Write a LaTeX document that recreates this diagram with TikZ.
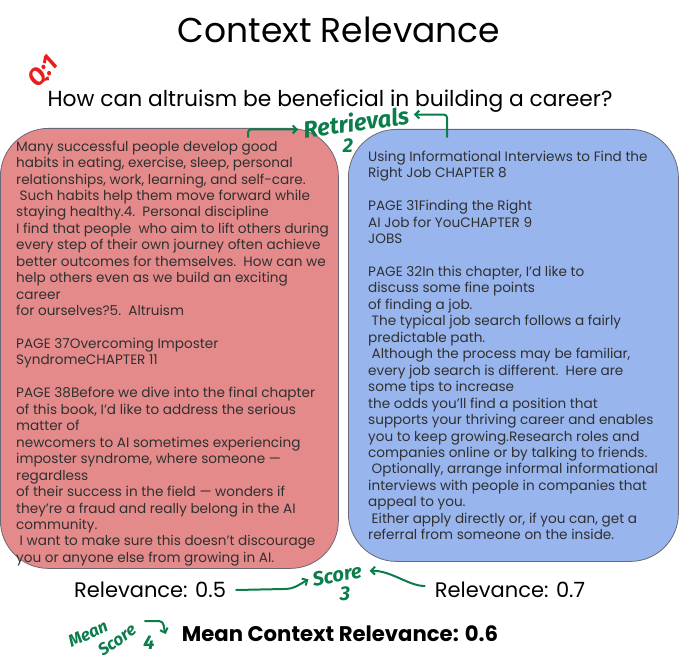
\documentclass[tikz,border=0pt]{standalone}
\usepackage{fontspec}
\setmainfont{Poppins}
\newfontfamily\handfont{Fira Sans}
\usetikzlibrary{positioning,arrows.meta}
\usepackage{xcolor}
\definecolor{boxred}{RGB}{228,138,138}
\definecolor{boxblue}{RGB}{152,181,238}
\definecolor{edgegray}{RGB}{105,105,115}
\definecolor{textgray}{RGB}{48,48,48}
\definecolor{inkgreen}{RGB}{10,125,75}
\definecolor{inkred}{RGB}{232,30,30}

\begin{document}
\begin{tikzpicture}[
    x=1pt, y=-1pt,
    ctxbox/.style={rectangle, rounded corners=48pt, draw=edgegray, line width=0.8pt,
                   anchor=north west, inner sep=0pt},
    ctxtext/.style={align=left, inner sep=0pt, text=textgray,
                    font=\fontsize{13.6}{16.45}\selectfont},
    score/.style={inner sep=0pt, font=\fontsize{21}{24}\selectfont},
    ink/.style={inner sep=0pt, text=inkgreen, font=\handfont\bfseries\itshape\fontsize{20}{20}\selectfont},
    inkarrow/.style={-{Straight Barb[length=4pt,width=8pt]}, line width=2pt, draw=inkgreen,
                     line cap=round, line join=round}
]
\useasboundingbox (0,0) rectangle (679,660);

\node[font=\fontsize{34.5}{38}\selectfont] (title) at (339,30) {Context Relevance};
\node[inner sep=0pt, font=\fontsize{21.8}{24}\selectfont] (question) at (330,101) {How can altruism be beneficial in building a career?};
\node[inner sep=0pt, text=inkred, font=\handfont\bfseries\itshape\fontsize{24}{24}\selectfont, rotate=50] (qlbl) at (44,72) {Q:1};

% the two retrieved contexts
\node[ctxbox, fill=boxred, minimum width=338, minimum height=440] (redbox) at (0,128) {};
\node[ctxbox, fill=boxblue, minimum width=330, minimum height=432] (bluebox) at (348,129) {};

\node[ctxtext, right=16pt of redbox.west, yshift=-5pt] (redtext) {%
Many successful people develop good\\
habits in eating, exercise, sleep, personal\\
relationships, work, learning, and self-care.\\
\hspace*{3.5pt}Such habits help them move forward while\\
staying healthy.4.\ \ Personal discipline\\
I find that people\ \ who aim to lift others during\\
every step of their own journey often achieve\\
better outcomes for themselves.\ \ How can we\\
help others even as we build an exciting\\
career\\
for ourselves?5.\ \ Altruism\\[16.45pt]
PAGE 37Overcoming Imposter\\
SyndromeCHAPTER 11\\[16.45pt]
PAGE 38Before we dive into the final chapter\\
of this book, I’d like to address the serious\\
matter of\\
newcomers to AI sometimes experiencing\\
imposter syndrome, where someone —\\
regardless\\
of their success in the field — wonders if\\
they’re a fraud and really belong in the AI\\
community.\\
\hspace*{3.5pt}I want to make sure this doesn’t discourage\\
you or anyone else from growing in AI.};

\node[ctxtext, right=20pt of bluebox.west] (bluetext) {%
Using Informational Interviews to Find the\\
Right Job CHAPTER 8\\[16.45pt]
PAGE 31Finding the Right\\
AI Job for YouCHAPTER 9\\
JOBS\\[16.45pt]
PAGE 32In this chapter, I’d like to\\
discuss some fine points\\
of finding a job.\\
\hspace*{3.5pt}The typical job search follows a fairly\\
predictable path.\\
\hspace*{3.5pt}Although the process may be familiar,\\
every job search is different.\ \ Here are\\
some tips to increase\\
the odds you’ll find a position that\\
supports your thriving career and enables\\
you to keep growing.Research roles and\\
companies online or by talking to friends.\\
\hspace*{3.5pt}Optionally, arrange informal informational\\
interviews with people in companies that\\
appeal to you.\\
\hspace*{3.5pt}Either apply directly or, if you can, get a\\
referral from someone on the inside.};

% scores
\node[score] (rel5) at (150,590) {Relevance: 0.5};
\node[score] (rel7) at (510,590) {Relevance: 0.7};
\node[score, font=\fontsize{21.2}{24}\selectfont\bfseries] (meanrel) at (340,634) {Mean Context Relevance: 0.6};

% handwritten notes
\node[ink, rotate=8, font=\handfont\bfseries\itshape\fontsize{23.5}{23.5}\selectfont] (retr) at (356,122) {Retrievals};
\node[ink] (retrnum) at (348,146) {2};
\node[ink, rotate=10] (scorelbl) at (337,575) {Score};
\node[ink] (scorenum) at (345,594) {3};
\node[ink, rotate=25, font=\handfont\bfseries\itshape\fontsize{17}{17}\selectfont] (meanlbl) at (88,634) {Mean};
\node[ink, rotate=35, font=\handfont\bfseries\itshape\fontsize{17}{17}\selectfont] (meanscore) at (117,640) {Score};
\node[ink] (meannum) at (149,643) {4};

\coordinate (retrfromL) at (248,137);
\coordinate (retrfromR) at (447,137);
\coordinate (meanfrom) at (145,621);

\draw[inkarrow, rounded corners=3pt] (retrfromL) |- ([xshift=-5pt]retr.west);
\draw[inkarrow, rounded corners=3pt] (retrfromR) |- ([xshift=5pt]retr.east);
\draw[inkarrow] ([xshift=10pt]rel5.east) -- ++(48,-1) to[out=0,in=-150] ([xshift=-4pt]scorelbl.west);
\draw[inkarrow] ([xshift=-10pt,yshift=4pt]rel7.west) .. controls +(-16,0) and +(22,0) .. ([xshift=8pt]scorelbl.east);
\draw[inkarrow] (meanfrom) -- ++(14,0) to[out=0,in=110] ([xshift=-16pt]meanrel.west);

\end{tikzpicture}
\end{document}
